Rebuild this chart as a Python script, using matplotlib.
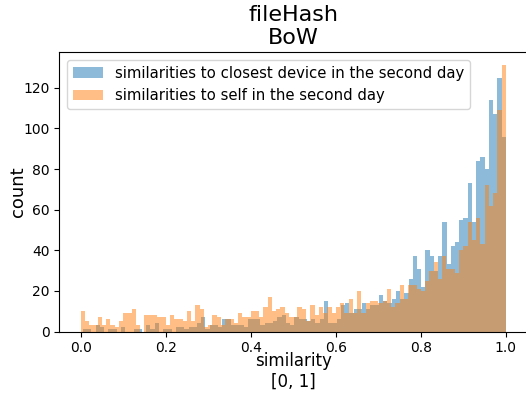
import numpy as np
import matplotlib
matplotlib.use("Agg")
import matplotlib.pyplot as plt

title = "fileHash\nBoW"
xlabel = "similarity\n[0, 1]"
ylabel = "count"
label_closest = "similarities to closest device in the second day"
label_self = "similarities to self in the second day"

# bin ranges (min, max) of each histogram, 100 bins each
closest_range = (0.005, 1.0)
self_range = (0.0, 1.0)

closest_counts = [
    1, 1, 0, 3, 2, 0, 1, 1, 0, 2,
    0, 0, 1, 1, 0, 3, 1, 4, 0, 1,
    1, 0, 2, 2, 1, 2, 2, 4, 7, 1,
    3, 3, 2, 6, 6, 3, 3, 3, 2, 6,
    6, 6, 3, 4, 4, 5, 7, 8, 4, 3,
    7, 6, 6, 5, 6, 4, 6, 15, 4, 4,
    6, 13, 14, 9, 11, 11, 14, 11, 13, 13,
    18, 15, 14, 16, 20, 16, 19, 26, 37, 31,
    22, 40, 37, 30, 37, 54, 33, 42, 44, 55,
    56, 73, 54, 84, 86, 80, 114, 107, 125, 96,
]

self_counts = [
    10, 5, 3, 3, 7, 3, 6, 3, 2, 5,
    9, 9, 11, 3, 0, 8, 8, 8, 7, 7,
    3, 8, 6, 6, 5, 10, 5, 13, 11, 2,
    3, 8, 7, 3, 6, 6, 4, 9, 7, 7,
    10, 10, 7, 12, 17, 10, 11, 12, 9, 7,
    7, 12, 11, 5, 13, 8, 12, 9, 12, 9,
    12, 14, 9, 16, 9, 20, 9, 14, 15, 15,
    14, 15, 21, 12, 14, 23, 16, 23, 23, 21,
    20, 25, 30, 34, 26, 37, 31, 31, 29, 40,
    42, 54, 45, 56, 43, 72, 62, 68, 109, 131,
]

fig = plt.figure(figsize=(5.26, 3.94), dpi=100)
ax = fig.add_axes([0.113, 0.1586, 0.889, 0.709])

e1 = np.linspace(closest_range[0], closest_range[1], len(closest_counts) + 1)
e2 = np.linspace(self_range[0], self_range[1], len(self_counts) + 1)
ax.hist(e1[:-1], bins=e1, weights=closest_counts, alpha=0.5, color="tab:blue",
        label=label_closest)
ax.hist(e2[:-1], bins=e2, weights=self_counts, alpha=0.5, color="tab:orange",
        label=label_self)

ax.set_title(title, fontsize=16)
ax.set_xlabel(xlabel, fontsize=12, labelpad=-2.5)
ax.set_ylabel(ylabel, fontsize=13, labelpad=-2.5)
ax.tick_params(labelsize=10)
ax.legend(loc="upper left", fontsize=10.75)

fig.savefig("out.png", dpi=100)
